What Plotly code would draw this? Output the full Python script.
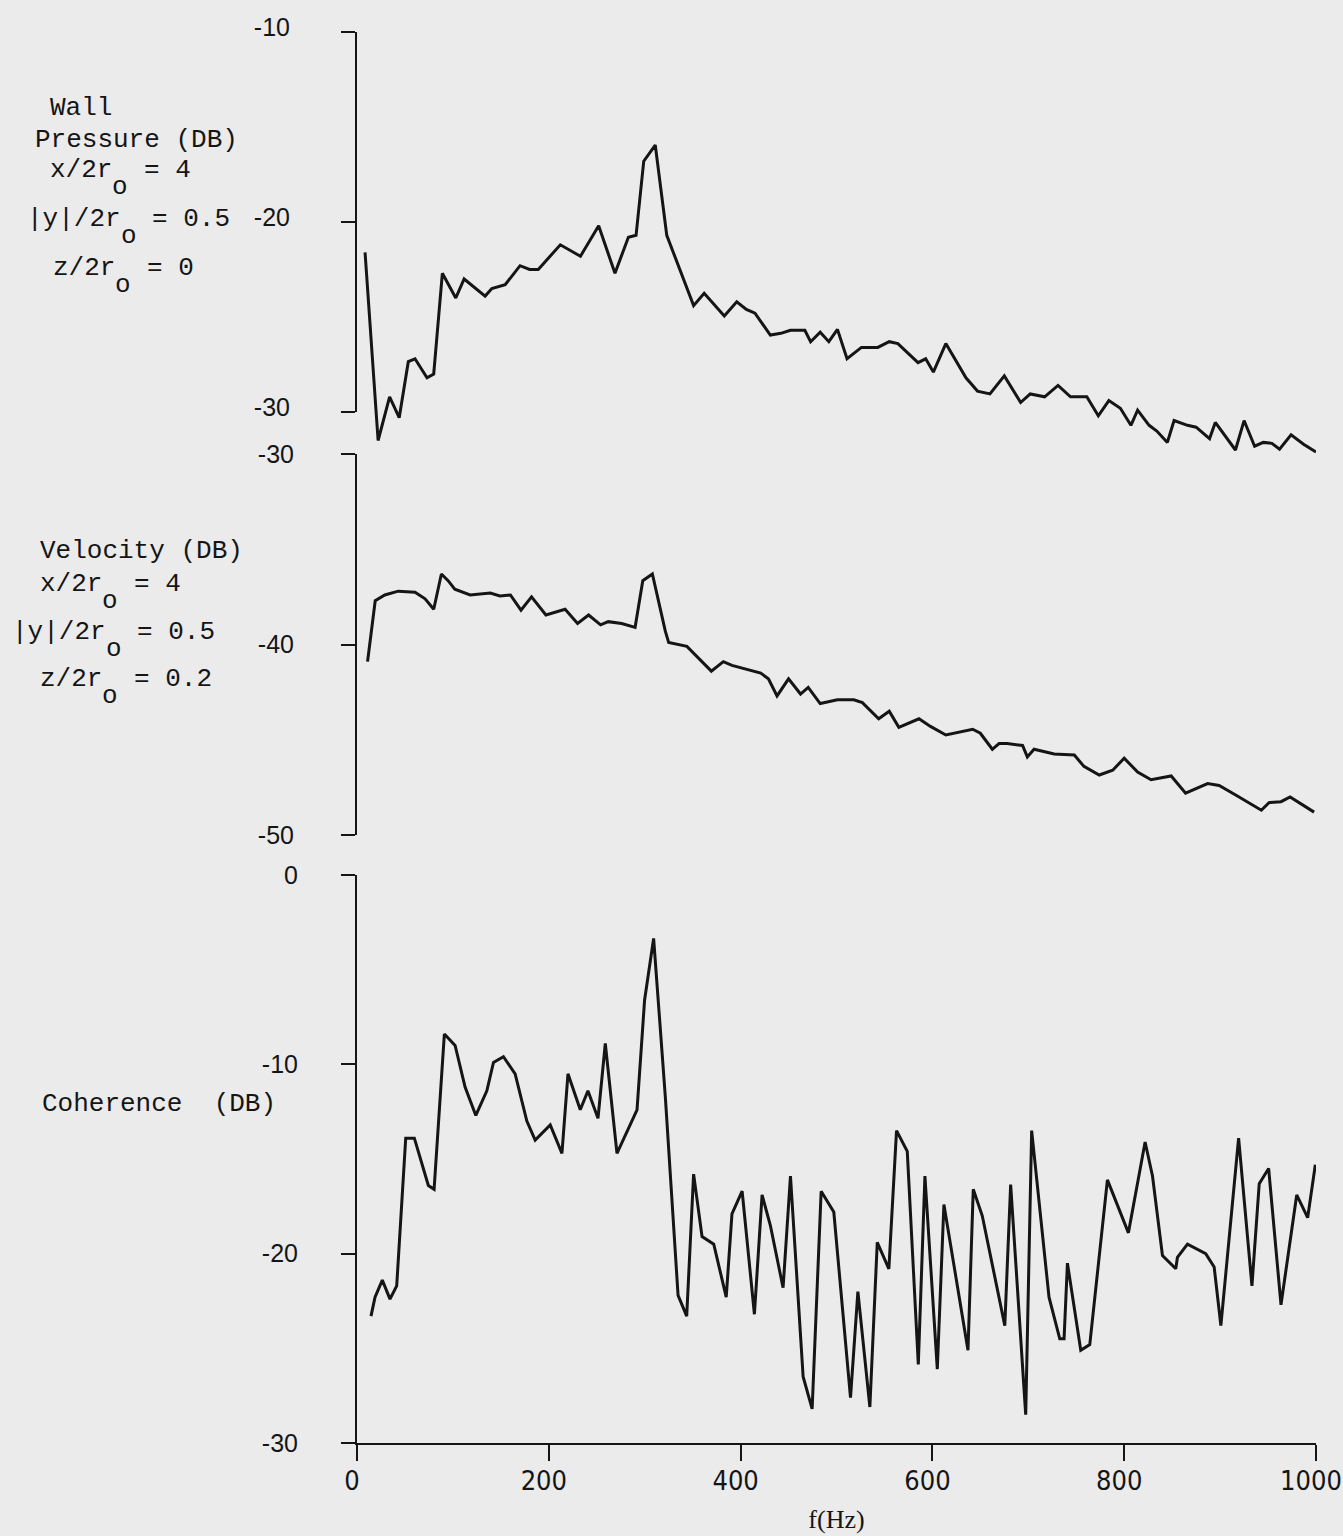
import plotly.graph_objects as go

# ---------------- data ----------------
freq_pressure = [8.4, 22, 34, 44, 53.5, 60.5, 73, 80, 89, 103, 111.7, 133.6, 140.6, 154.5, 170, 180, 189,
                 212, 233, 252, 269, 283, 291, 299, 311, 323, 351, 362, 383, 396, 406, 415, 431, 442, 452,
                 467, 473, 483, 492, 501, 511, 526, 543, 555, 564, 585, 593, 601, 614, 635, 647, 660, 675,
                 692, 702, 717, 731, 744, 761, 773, 784, 796, 807, 814, 826, 834, 845, 852, 866, 875, 889,
                 895, 916, 925, 936, 945, 954, 962, 974, 987, 1000]
wall_pressure_db = [-21.6, -31.5, -29.2, -30.3, -27.35, -27.2, -28.2, -28.0, -22.7, -24.0, -23.0, -23.9, -23.5,
                    -23.3, -22.3, -22.5, -22.5, -21.2, -21.8, -20.2, -22.7, -20.8, -20.7, -16.8, -15.95, -20.7,
                    -24.4, -23.75, -24.95, -24.2, -24.6, -24.8, -25.95, -25.86, -25.7, -25.7, -26.3, -25.8,
                    -26.3, -25.65, -27.2, -26.6, -26.6, -26.3, -26.4, -27.4, -27.2, -27.9, -26.4, -28.2, -28.9,
                    -29.05, -28.1, -29.5, -29.05, -29.2, -28.6, -29.2, -29.2, -30.2, -29.4, -29.8, -30.7, -29.9,
                    -30.7, -31.0, -31.6, -30.45, -30.7, -30.8, -31.4, -30.55, -32.0, -30.45, -31.8, -31.6,
                    -31.65, -31.96, -31.2, -31.7, -32.1]

freq_velocity = [11, 19, 29, 43, 60.5, 71, 80, 88, 95, 102, 118, 139, 149, 160, 171, 182, 197, 217, 230, 241.5,
                 254, 262, 276, 290, 298, 308, 321.5, 325, 344, 369.5, 382, 391, 421, 429, 438, 450, 462.5,
                 470.5, 483, 501, 518, 527, 544, 555, 565, 586, 598, 614, 642, 650, 662.5, 669.5, 678, 694,
                 699, 706, 727, 748, 758, 774, 788, 800, 814, 828, 849, 864, 887, 899, 918, 943, 951, 963.5,
                 973, 998]
velocity_db = [-40.9, -37.7, -37.4, -37.2, -37.26, -37.6, -38.15, -36.3, -36.65, -37.1, -37.4, -37.3, -37.45,
               -37.4, -38.2, -37.5, -38.45, -38.15, -38.9, -38.45, -38.97, -38.8, -38.9, -39.1, -36.65, -36.3,
               -39.3, -39.9, -40.1, -41.4, -40.9, -41.1, -41.5, -41.8, -42.7, -41.8, -42.6, -42.25, -43.1, -42.9,
               -42.9, -43.05, -43.9, -43.5, -44.35, -43.9, -44.3, -44.75, -44.45, -44.66, -45.5, -45.2, -45.2,
               -45.3, -45.9, -45.5, -45.75, -45.8, -46.4, -46.85, -46.6, -45.97, -46.7, -47.1, -46.9, -47.8,
               -47.3, -47.4, -47.95, -48.7, -48.3, -48.25, -48.0, -48.8]

freq_coherence = [14.6, 18.8, 26.4, 34.4, 41.4, 50.8, 59.8, 67.5, 74.4, 80.4, 91.1, 102.3, 112.7, 123.9, 135.4,
                  142.3, 152.7, 164.9, 177.1, 185.8, 201.5, 213.7, 220, 232.8, 240.8, 251.3, 258.9, 271.1, 292,
                  299.9, 309.3, 321.5, 334.8, 343.8, 351, 359.8, 372, 385, 391, 401.6, 414.4, 422.4, 431, 444.3,
                  452, 465.2, 474.6, 484, 497.2, 514.6, 522.3, 534.8, 542.5, 554.6, 562.6, 573.8, 585.3, 592.2,
                  605.1, 612, 637.1, 642.6, 652, 675.5, 681.6, 697.3, 703.5, 721.6, 732.8, 737.3, 740.8, 754.7,
                  764.1, 782.5, 804.4, 821.8, 829.5, 839.9, 853.8, 855.5, 866, 885, 893.8, 900.8, 919.3, 933.2,
                  940.8, 950.6, 963.5, 979.9, 991.3, 999.3]
coherence_db = [-23.3, -22.3, -21.4, -22.4, -21.7, -13.9, -13.9, -15.2, -16.4, -16.6, -8.4, -9.0, -11.2, -12.7,
                -11.4, -9.9, -9.6, -10.5, -13.0, -14.0, -13.2, -14.7, -10.5, -12.4, -11.4, -12.85, -8.9, -14.7,
                -12.4, -6.6, -3.35, -11.7, -22.2, -23.3, -15.8, -19.1, -19.5, -22.3, -17.9, -16.7, -23.2, -16.9,
                -18.5, -21.8, -15.9, -26.5, -28.2, -16.7, -17.8, -27.6, -22.0, -28.1, -19.4, -20.8, -13.5, -14.6,
                -25.85, -15.9, -26.1, -17.4, -25.1, -16.6, -18.0, -23.8, -16.35, -28.5, -13.5, -22.3, -24.5,
                -24.5, -20.5, -25.1, -24.8, -16.1, -18.9, -14.1, -15.9, -20.1, -20.8, -20.2, -19.5, -20.0, -20.7,
                -23.8, -13.9, -21.7, -16.3, -15.5, -22.7, -16.9, -18.1, -15.3]

x_ticks = [0, 200, 400, 600, 800, 1000]
x_tick_labels = ["0", "200", "400", "600", "800", "1000"]
pressure_ticks = [-10, -20, -30]
pressure_tick_labels = ["-10", "-20", "-30"]
velocity_ticks = [-30, -40, -50]
velocity_tick_labels = ["-30", "-40", "-50"]
coherence_ticks = [0, -10, -20, -30]
coherence_tick_labels = ["0", "-10", "-20", "-30"]

# ---------------- layout helpers ----------------
W, H = 1343, 1536
INK = "#151515"
BG = "#ebebeb"
MONO = "Liberation Mono, DejaVu Sans Mono, monospace"
TICKFONT = dict(family="Liberation Sans, Arial, sans-serif", size=25, color=INK)
XTICKFONT = dict(family="DejaVu Sans Condensed, Liberation Sans, sans-serif", size=27, color=INK)


def px_x(p):
    return p / W


def px_y(p):
    return 1 - p / H


x_dom = [px_x(357), px_x(1316)]

fig = go.Figure()
line_style = dict(color=INK, width=3)
fig.add_trace(go.Scatter(x=freq_pressure, y=wall_pressure_db, mode="lines", line=line_style,
                         xaxis="x", yaxis="y", showlegend=False))
fig.add_trace(go.Scatter(x=freq_velocity, y=velocity_db, mode="lines", line=line_style,
                         xaxis="x", yaxis="y2", showlegend=False))
fig.add_trace(go.Scatter(x=freq_coherence, y=coherence_db, mode="lines", line=line_style,
                         xaxis="x", yaxis="y3", showlegend=False))
# empty trace so the displayed wall-pressure axis (y4) gets its subplot drawn
fig.add_trace(go.Scatter(x=[None], y=[None], mode="lines", xaxis="x", yaxis="y4",
                         showlegend=False, hoverinfo="skip"))

common_y = dict(anchor="x", showgrid=False, zeroline=False, ticks="outside", ticklen=14, tickwidth=2,
                tickcolor=INK, linecolor=INK, linewidth=2, tickfont=TICKFONT, automargin=False)

fig.update_layout(
    template="none",
    width=W, height=H, autosize=False,
    margin=dict(l=0, r=0, t=0, b=0, pad=0),
    paper_bgcolor=BG, plot_bgcolor="rgba(0,0,0,0)",
    showlegend=False,
    xaxis=dict(domain=x_dom, range=[0, 1000], anchor="y3", showgrid=False, zeroline=False,
               showline=True, linecolor=INK, linewidth=2, ticks="outside", ticklen=16, tickwidth=2,
               tickcolor=INK, tickvals=x_ticks, ticktext=x_tick_labels, tickfont=XTICKFONT,
               ticklabelstandoff=-3, ticklabelshift=-5, ticklabeloverflow="allow", automargin=False,
               title=dict(text="f(Hz)", font=dict(family="Liberation Serif, serif", size=26, color=INK),
                          standoff=14)),
    # hidden data axis for the wall-pressure trace (extends below -30 so the curve is not cut)
    yaxis=dict(domain=[px_y(459.5), px_y(32)], range=[-32.5, -10], anchor="x", showgrid=False,
               zeroline=False, showline=False, showticklabels=False, ticks="", automargin=False),
    yaxis2=dict(domain=[px_y(835), px_y(454)], range=[-50, -30], showline=True,
                tickvals=velocity_ticks, ticktext=velocity_tick_labels, ticklabelstandoff=42, **common_y),
    yaxis3=dict(domain=[px_y(1443), px_y(875)], range=[-30, 0], showline=True,
                tickvals=coherence_ticks, ticktext=coherence_tick_labels, ticklabelstandoff=38, **common_y),
    # displayed axis of the wall-pressure panel
    yaxis4=dict(domain=[px_y(412), px_y(32)], range=[-30, -10], showline=True,
                tickvals=pressure_ticks, ticktext=pressure_tick_labels, ticklabelstandoff=46,
                ticklabelshift=-5, **common_y),
)

NB = "\u00a0"
CHAR_W = 0.6 * 26
MONO_FONT = dict(family=MONO, size=26, color=INK)
# (text before subscript, text after subscript, left px, centre px); subscript "o" sits one cell after prefix
label_lines = [
    ("Wall", None, 50, 108),
    ("Pressure" + NB + "(DB)", None, 35, 140),
    ("x/2r", "=" + NB + "4", 50, 170),
    ("|y|/2r", "=" + NB + "0.5", 27, 219),
    ("z/2r", "=" + NB + "0", 53, 268),
    ("Velocity" + NB + "(DB)", None, 40, 551),
    ("x/2r", "=" + NB + "4", 40, 584),
    ("|y|/2r", "=" + NB + "0.5", 12, 632),
    ("z/2r", "=" + NB + "0.2", 40, 679),
    ("Coherence" + NB + NB + "(DB)", None, 42, 1104),
]


def text_ann(text, lx, cy):
    return dict(text=text, x=px_x(lx), y=px_y(cy), xref="paper", yref="paper",
                xanchor="left", yanchor="middle", showarrow=False, borderpad=0, borderwidth=0,
                font=MONO_FONT)


annotations = []
for prefix, suffix, lx, cy in label_lines:
    annotations.append(text_ann(prefix, lx, cy))
    if suffix is not None:
        n = len(prefix)
        annotations.append(text_ann("o", lx + n * CHAR_W, cy + 17))
        annotations.append(text_ann(suffix, lx + (n + 2) * CHAR_W, cy))
fig.update_layout(annotations=annotations)

fig.write_html("out.html")
